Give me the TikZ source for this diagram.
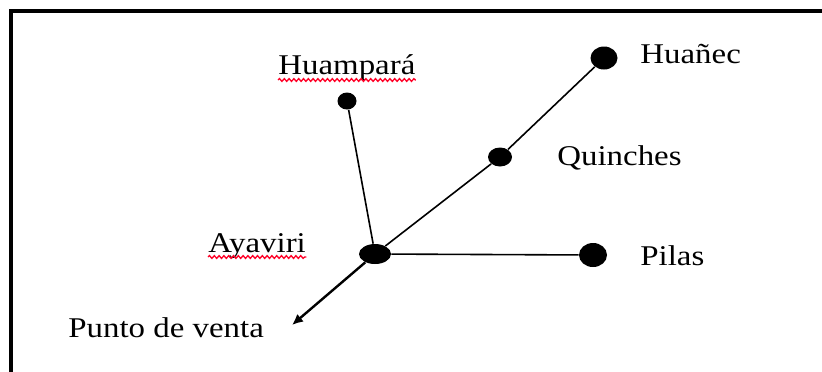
\documentclass[tikz,border=0pt]{standalone}
\usepackage{fontspec}
\setmainfont{Liberation Serif}[FakeStretch=1.15]
\usepackage{tikz}
\usetikzlibrary{arrows.meta,shapes.geometric,decorations.pathmorphing}
\tikzset{
  town/.style={ellipse,fill=black,inner sep=0pt},
  road/.style={line width=0.8pt},
  venta/.style={-{Latex[length=5.5pt,width=5pt]},line width=1.2pt},
  townlbl/.style={anchor=base west,inner sep=0pt,font=\fontsize{14.3}{16}\selectfont},
  spell/.style={draw=red!85!magenta,line width=0.65pt,
    decorate,decoration={snake,segment length=2.4pt,amplitude=0.7pt}},
  frame/.style={line width=2.3pt},
}

\begin{document}
\begin{tikzpicture}[x=0.5pt,y=-0.5pt]
  \useasboundingbox (0,0) rectangle (822,371);
  \draw[frame] (11,380) -- (11,11) -- (830,11);
  % towns
  \foreach \n/\x/\y/\w/\h in {hp/347/101/9.5/8.5, qu/500/157/12/9.5,
      hn/604/58/13.5/11.5, pi/593/255/14/12, ay/375/254/16/10} {
    \node[town,minimum width=\w pt,minimum height=\h pt] (\n) at (\x,\y) {};
  }
  \coordinate (pv) at (292,325);
  % roads
  \draw[road] (hp) -- (ay);
  \draw[road] (ay) -- (qu) -- (hn);
  \draw[road] (ay) -- (pi);
  \draw[venta] (ay) -- (pv);
  % names
  \node[townlbl] (hpl) at (278,74) {Huampará};
  \node[townlbl] (ayl) at (208,252) {Ayaviri};
  \node[townlbl] (hnl) at (640,63) {Huañec};
  \node[townlbl] (qul) at (557,165) {Quinches};
  \node[townlbl] (pil) at (640,265) {Pilas};
  \node[townlbl] (pvl) at (68,337) {Punto de venta};
  \draw[spell] ([yshift=-3pt]hpl.base west) -- ([yshift=-3pt]hpl.base east);
  \draw[spell] ([yshift=-2.5pt]ayl.base west) -- ([yshift=-2.5pt]ayl.base east);
\end{tikzpicture}
\end{document}
